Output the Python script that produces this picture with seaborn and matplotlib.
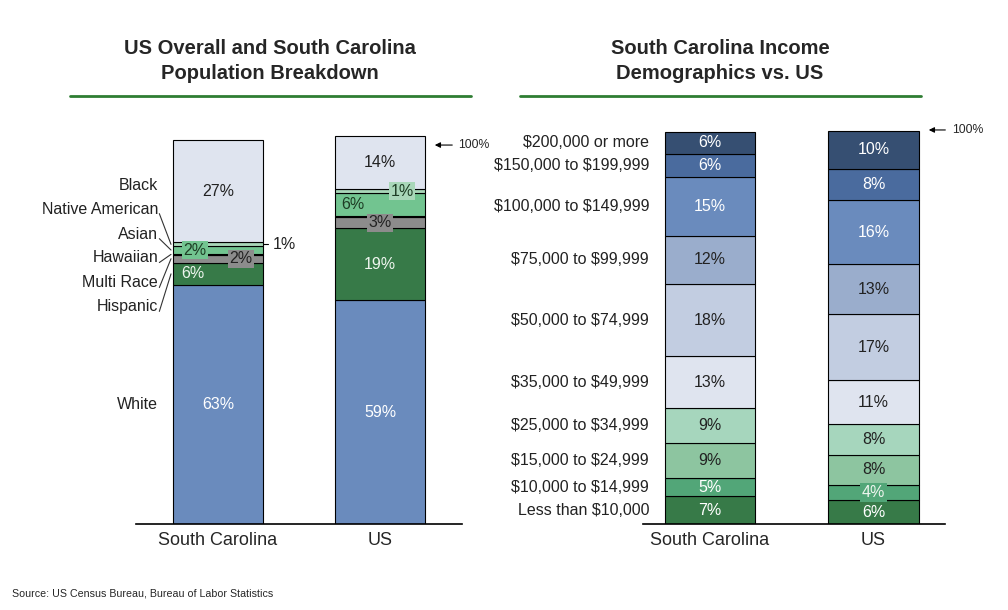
import matplotlib
matplotlib.use("Agg")
import matplotlib.pyplot as plt
from matplotlib.lines import Line2D
import pandas as pd
import seaborn as sns


REGIONS = ["South Carolina", "US"]

# population breakdown, listed bottom -> top of the stack
RACES    = ["White", "Hispanic", "Multi Race", "Hawaiian", "Asian", "Native American", "Black"]
RACE_SC  = [63, 6, 2, 0.3, 2, 1, 27]
RACE_US  = [59, 19, 3, 0.3, 6, 1, 14]
RACE_COL = ["#6a8bbd", "#377a48", "#8c8c8c", "#000000", "#72c490", "#a9d7b9", "#dfe4ef"]

# income brackets, bottom -> top
INCOME  = ["Less than $10,000", "$10,000 to $14,999", "$15,000 to $24,999",
           "$25,000 to $34,999", "$35,000 to $49,999", "$50,000 to $74,999",
           "$75,000 to $99,999", "$100,000 to $149,999", "$150,000 to $199,999",
           "$200,000 or more"]
INC_SC  = [7.1, 4.6, 8.9, 8.9, 13.2, 18.3, 12.4, 14.8, 6.1, 5.6]
INC_US  = [6.1, 3.8, 7.7, 7.8, 11.2, 16.8, 12.8, 16.2, 8.0, 9.6]
INC_COL = ["#377a48", "#52a678", "#8dc5a0", "#a6d6bd", "#dfe4ef",
           "#c2cde1", "#9aadcc", "#6a8bbd", "#4a6b9e", "#364f72"]

W, H = 1008, 610
BAR_W = 0.556


def fig_xy(px, py):
    return px / W, 1 - py / H


def long_table(groups, sc_vals, us_vals):
    rows = []
    for region, vals in zip(REGIONS, [sc_vals, us_vals]):
        for g, v in zip(groups, vals):
            rows.append({"region": region, "group": g, "pct": v})
    return pd.DataFrame(rows)


def stacked(ax, df, groups, colors):
    # seaborn puts the first hue level on top of a stack, so feed it reversed
    sns.histplot(data=df, x="region", hue="group", weights="pct",
                 multiple="stack", discrete=True, shrink=BAR_W,
                 hue_order=groups[::-1], palette=dict(zip(groups, colors)),
                 edgecolor="black", linewidth=0.8, alpha=1, legend=False, ax=ax)
    ax.set_xlabel("")
    ax.set_ylabel("")
    ax.set_yticks([])
    ax.set_xticks([0, 1])
    ax.set_xticklabels(REGIONS, fontsize=13)
    ax.tick_params(axis="x", length=0, pad=6)
    for s in ["top", "left", "right"]:
        ax.spines[s].set_visible(False)
    ax.spines["bottom"].set_color("black")
    ax.spines["bottom"].set_linewidth(1.2)


def centers(vals):
    out, base = [], 0
    for v in vals:
        out.append(base + v / 2)
        base += v
    return out


sns.set_theme(style="white")
plt.rcParams["font.family"] = ["Liberation Sans", "DejaVu Sans"]
plt.rcParams["text.parse_math"] = False   # dollar signs are literal

fig = plt.figure(figsize=(W / 100, H / 100), dpi=100)

# ---------------- left: population ----------------
axL = fig.add_axes([136 / W, (H - 524) / H, 326 / W, 396 / H])
stacked(axL, long_table(RACES, RACE_SC, RACE_US), RACES, RACE_COL)
axL.set_xlim(-0.506, 1.506)
axL.set_ylim(0, 104.5)

light = "#eef5ee"
# (dx, text colour, box colour) per segment
sc_style = {"White": (0, "white", None), "Hispanic": (-0.154, light, None),
            "Multi Race": (0.14, "#222222", "#8c8c8c"), "Asian": (-0.14, "#1e3d25", "#72c490"),
            "Black": (0, "#222222", None)}
us_style = {"White": (0, "white", None), "Hispanic": (0, light, None),
            "Multi Race": (0, "#222222", "#8c8c8c"), "Asian": (-0.167, "#1e3d25", None),
            "Native American": (0.136, "#1e3d25", "#a9d7b9"), "Black": (0, "#222222", None)}

for xi, vals, style in [(0, RACE_SC, sc_style), (1, RACE_US, us_style)]:
    for race, v, cy in zip(RACES, vals, centers(vals)):
        if race not in style:
            continue
        dx, tc, box = style[race]
        bbox = dict(boxstyle="square,pad=0.1", fc=box, ec="none") if box else None
        axL.text(xi + dx, cy, f"{round(v)}%", ha="center", va="center",
                 fontsize=11.5, color=tc, bbox=bbox)

# SC native american share sits outside the bar
sc_c = centers(RACE_SC)
na = RACES.index("Native American")
axL.plot([BAR_W / 2, BAR_W / 2 + 0.03], [sc_c[na], sc_c[na]], color="black", lw=0.8)
axL.text(0.41, sc_c[na], f"{round(RACE_SC[na])}%", ha="center", va="center", fontsize=11.5,
         color="#222222")

# category names on the left of the SC bar
name_y = {"Native American": 83.1, "Asian": 76.5, "Hawaiian": 70.2,
          "Multi Race": 63.6, "Hispanic": 57.3}
for race, cy in zip(RACES, sc_c):
    if race in name_y:
        ty = name_y[race]
        axL.text(-0.37, ty, race, ha="right", va="center", fontsize=11.5, color="#222222")
        axL.plot([-0.362, -0.29], [ty - 1.2, cy], color="#333333", lw=0.8)
    else:
        ty = cy + 1.5 if race == "Black" else cy
        axL.text(-0.37, ty, race, ha="right", va="center", fontsize=11.5, color="#222222")

axL.annotate("", xy=(1.321, 100), xytext=(1.463, 100), annotation_clip=False,
             arrowprops=dict(arrowstyle="-|>", color="black", lw=0.8, mutation_scale=8))
axL.text(1.48, 100, "100%", ha="left", va="center", fontsize=8.8, clip_on=False)

# ---------------- right: income ----------------
axR = fig.add_axes([643 / W, (H - 524) / H, 302 / W, 396 / H])
stacked(axR, long_table(INCOME, INC_SC, INC_US), INCOME, INC_COL)
axR.set_xlim(-0.41, 1.437)
axR.set_ylim(0, 100.8)

dark_fill = {"Less than $10,000", "$10,000 to $14,999", "$100,000 to $149,999",
             "$150,000 to $199,999", "$200,000 or more"}
for xi, vals in [(0, INC_SC), (1, INC_US)]:
    for name, v, cy, col in zip(INCOME, vals, centers(vals), INC_COL):
        tc = "white" if name in dark_fill else "#222222"
        bbox = None
        if xi == 1 and name == "$10,000 to $14,999":
            bbox = dict(boxstyle="square,pad=0.1", fc=col, ec="none")
            tc = light
        axR.text(xi, cy, f"{round(v)}%", ha="center", va="center",
                 fontsize=11.5, color=tc, bbox=bbox)

for name, cy in zip(INCOME, centers(INC_SC)):
    axR.text(-0.373, cy, name, ha="right", va="center", fontsize=11.5, color="#222222",
             clip_on=False)

axR.annotate("", xy=(1.321, 100.3), xytext=(1.456, 100.3), annotation_clip=False,
             arrowprops=dict(arrowstyle="-|>", color="black", lw=0.8, mutation_scale=8))
axR.text(1.48, 100.3, "100%", ha="left", va="center", fontsize=8.8, clip_on=False)

# ---------------- titles, rules, source ----------------
for cx, title, x0, x1 in [(270, "US Overall and South Carolina\nPopulation Breakdown", 70, 471),
                          (720, "South Carolina Income\nDemographics vs. US", 520, 921)]:
    fx, fy = fig_xy(cx, 61)
    fig.text(fx, fy, title, ha="center", va="center", fontsize=14.5, weight="bold",
             linespacing=1.42)
    fig.add_artist(Line2D([x0 / W, x1 / W], [fig_xy(0, 96)[1]] * 2,
                          color="#2e7d32", lw=2))

fx, fy = fig_xy(12, 593)
fig.text(fx, fy, "Source: US Census Bureau, Bureau of Labor Statistics",
         ha="left", va="center", fontsize=7.7)

fig.savefig("out.png", dpi=100)
